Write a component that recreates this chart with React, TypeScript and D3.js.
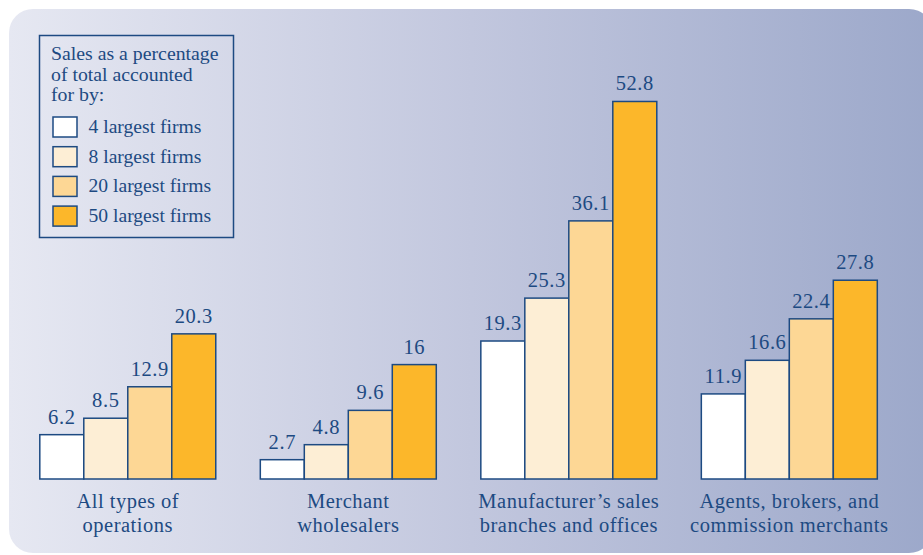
import React from "react";
import * as d3 from "d3";

const categories: string[][] = [
  ["All types of", "operations"],
  ["Merchant", "wholesalers"],
  ["Manufacturer\u2019s sales", "branches and offices"],
  ["Agents, brokers, and", "commission merchants"],
];
const seriesNames = ["4 largest firms", "8 largest firms", "20 largest firms", "50 largest firms"];
const largest4 = [6.2, 2.7, 19.3, 11.9];
const largest8 = [8.5, 4.8, 25.3, 16.6];
const largest20 = [12.9, 9.6, 36.1, 22.4];
const largest50 = [20.3, 16, 52.8, 27.8];
const legendTitle = ["Sales as a percentage", "of total accounted", "for by:"];

const seriesValues = [largest4, largest8, largest20, largest50];
const colors = ["#ffffff", "#fdeed5", "#fdd795", "#fcb72a"];
const ink = "#1d4a82";
const font = "Liberation Serif";

export default function App() {
  const W = 923;
  const H = 555;
  const baseline = 479;
  const groupKeys = categories.map((c) => c.join(" "));
  const x0 = d3
    .scaleBand<string>()
    .domain(groupKeys)
    .range([39.8, 877.3])
    .paddingInner(0.202)
    .paddingOuter(0);
  const x1 = d3
    .scaleBand<string>()
    .domain(seriesNames)
    .range([0, x0.bandwidth()])
    .padding(0);
  const y = d3.scaleLinear().domain([0, 60]).range([baseline, baseline - 60 * 7.15]);
  const ts = { fontFamily: font } as React.CSSProperties;

  return (
    <svg width={W} height={H} style={{ position: "absolute", left: 0, top: 0 }}>
      <defs>
        <linearGradient id="bg" x1="0" x2="1" y1="0" y2="0">
          <stop offset="0" stopColor="#e6e8f2" />
          <stop offset="0.5" stopColor="#c2c7de" />
          <stop offset="1" stopColor="#9ca8ca" />
        </linearGradient>
      </defs>
      <rect x={0} y={0} width={W} height={H} fill="#ffffff" />
      <rect x={9} y={9} width={924} height={544} rx={24} fill="url(#bg)" />

      {/* legend */}
      <rect x={39.5} y={35.5} width={194} height={202} fill="none" stroke={ink} strokeWidth={1.5} />
      {legendTitle.map((t, i) => (
        <text key={t} x={51} y={60 + i * 20.6} fontSize={19.8} fill={ink} style={ts}>
          {t}
        </text>
      ))}
      {seriesNames.map((s, i) => (
        <g key={s} transform={`translate(0, ${117 + i * 29.7})`}>
          <rect x={53} y={0} width={24} height={20} fill={colors[i]} stroke={ink} strokeWidth={1.5} />
          <text x={88.5} y={16} fontSize={19.6} fill={ink} style={ts}>
            {s}
          </text>
        </g>
      ))}

      {/* bars */}
      {groupKeys.map((g, gi) => (
        <g key={g} transform={`translate(${x0(g)}, 0)`}>
          {seriesNames.map((s, si) => {
            const v = seriesValues[si][gi];
            const bx = x1(s)!;
            return (
              <g key={s}>
                <rect
                  x={bx}
                  y={y(v)}
                  width={x1.bandwidth()}
                  height={baseline - y(v)}
                  fill={colors[si]}
                  stroke={ink}
                  strokeWidth={1.5}
                />
                <text
                  x={bx + x1.bandwidth() / 2}
                  y={y(v) - 11}
                  textAnchor="middle"
                  fontSize={20.5}
                  letterSpacing={0.6}
                  fill={ink}
                  style={ts}
                >
                  {String(v)}
                </text>
              </g>
            );
          })}
          {categories[gi].map((line, li) => (
            <text
              key={line}
              x={x0.bandwidth() / 2}
              y={507.5 + li * 24.5}
              textAnchor="middle"
              fontSize={20.5}
              letterSpacing={0.5}
              fill={ink}
              style={ts}
            >
              {line}
            </text>
          ))}
        </g>
      ))}
    </svg>
  );
}
